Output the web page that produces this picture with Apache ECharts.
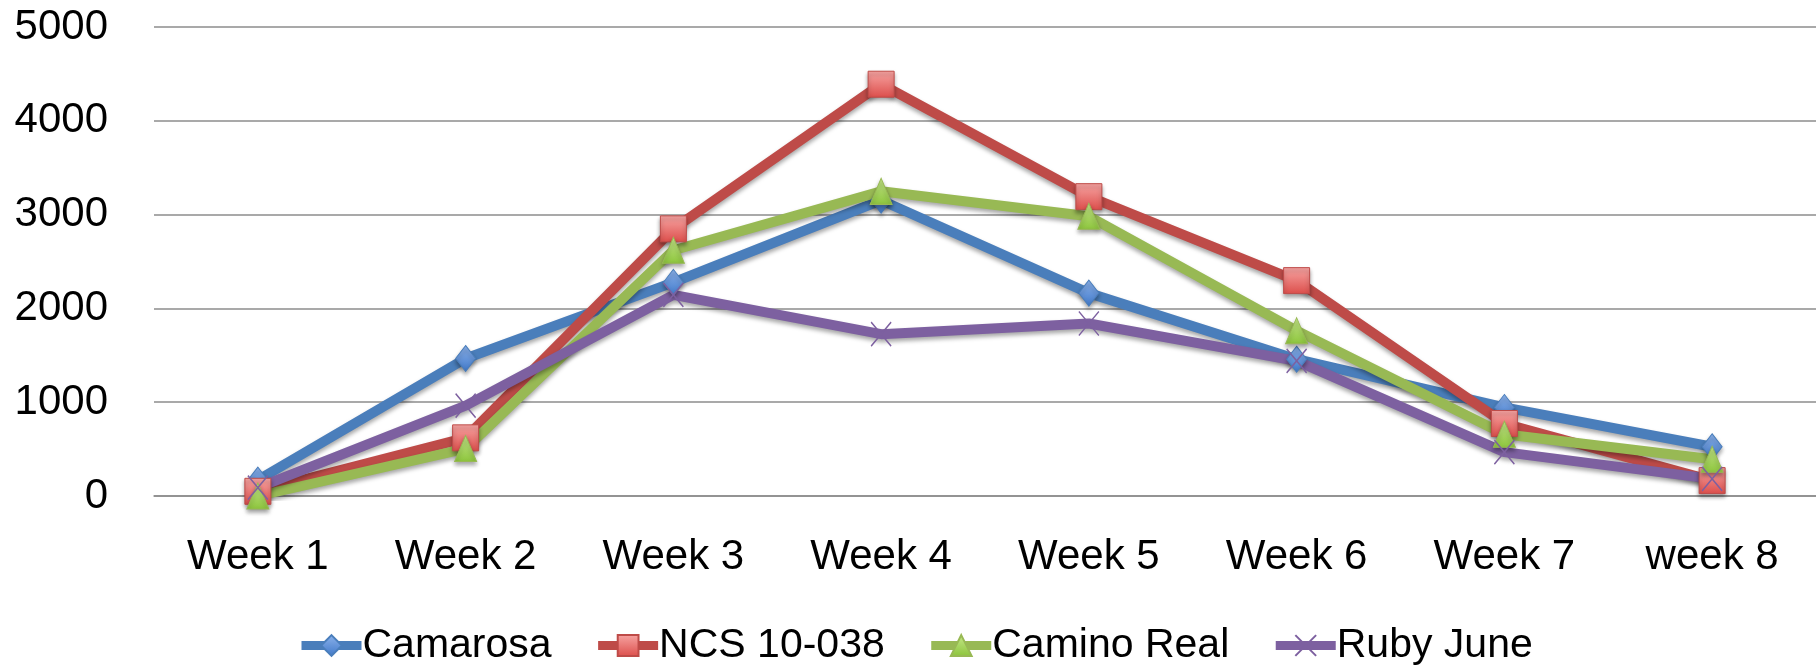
<!DOCTYPE html>
<html>
<head>
<meta charset="UTF-8" />
<script src="https://cdn.jsdelivr.net/npm/echarts@6/dist/echarts.min.js"></script>
<style>
  html, body, #main { margin: 0; padding: 0; height: 100%; width: 100%; background: #fff; }
</style>
</head>
<body>
<div id="main" style="width:1816px;height:665px;"></div>
<script>
  // data
  const weeks = ['Week 1', 'Week 2', 'Week 3', 'Week 4', 'Week 5', 'Week 6', 'Week 7', 'week 8'];
  const camarosa = [170, 1466, 2277, 3153, 2163, 1458, 944, 525];
  const ncs = [50, 620, 2848, 4390, 3191, 2296, 773, 164];
  const caminoReal = [0, 506, 2620, 3248, 2982, 1763, 659, 392];
  const rubyJune = [90, 963, 2144, 1725, 1839, 1440, 468, 183];
  const yTicks = { min: 0, max: 5000, interval: 1000 };

  const font = 'Liberation Sans, Arial, sans-serif';
  const shadow = { shadowColor: 'rgba(0,0,0,0.35)', shadowBlur: 4, shadowOffsetY: 3 };

  function grad(top, bottom) {
    return new echarts.graphic.LinearGradient(0, 0, 0, 1, [
      { offset: 0, color: top }, { offset: 1, color: bottom }
    ]);
  }

  function line(name, data, color, symbol, size, fill, extra) {
    return Object.assign({
      name: name,
      type: 'line',
      data: data,
      symbol: symbol,
      symbolSize: size,
      lineStyle: Object.assign({ color: color, width: 10 }, shadow),
      itemStyle: Object.assign({ color: fill, borderColor: color, borderWidth: 1 }, shadow),
      emphasis: { disabled: true }
    }, extra || {});
  }

  const chart = echarts.init(document.getElementById('main'));
  chart.setOption({
    animation: false,
    textStyle: { fontFamily: font, color: '#000' },
    grid: { left: 154, right: 0, top: 27, bottom: 169, containLabel: false },
    legend: {
      left: 292,
      top: 620,
      itemWidth: 60,
      itemHeight: 26,
      itemGap: 42,
      lineStyle: { width: 9 },
      textStyle: { fontFamily: font, fontSize: 41, color: '#000', padding: [0, 0, 0, -4] },
      data: ['Camarosa', 'NCS 10-038', 'Camino Real', 'Ruby June']
    },
    xAxis: {
      type: 'category',
      data: weeks,
      axisLine: { lineStyle: { color: '#8c8c8c', width: 1.5 } },
      axisTick: { show: false },
      axisLabel: { fontSize: 42, color: '#000', margin: 40, fontFamily: font }
    },
    yAxis: {
      type: 'value',
      min: yTicks.min,
      max: yTicks.max,
      interval: yTicks.interval,
      axisLine: { show: false },
      axisTick: { show: false },
      splitLine: { lineStyle: { color: '#8c8c8c', width: 1.5 } },
      axisLabel: { fontSize: 42, color: '#000', margin: 46, fontFamily: font, formatter: v => String(v) }
    },
    series: [
      line('Camarosa', camarosa, '#4A7EBB', 'diamond', [20, 26], grad('#8db3ec', '#3f78c8')),
      line('NCS 10-038', ncs, '#BE4B48', 'rect', [26, 26], grad('#f7a5a3', '#dc4e4b')),
      line('Camino Real', caminoReal, '#98B954', 'triangle', [22, 26], grad('#c6e88a', '#8cc43c')),
      line('Ruby June', rubyJune, '#7D60A0', 'path://M0,0L10,10M10,0L0,10', [20, 24], 'none',
        { itemStyle: { color: 'none', borderColor: '#7D60A0', borderWidth: 1.5 } })
    ]
  });
</script>
</body>
</html>
